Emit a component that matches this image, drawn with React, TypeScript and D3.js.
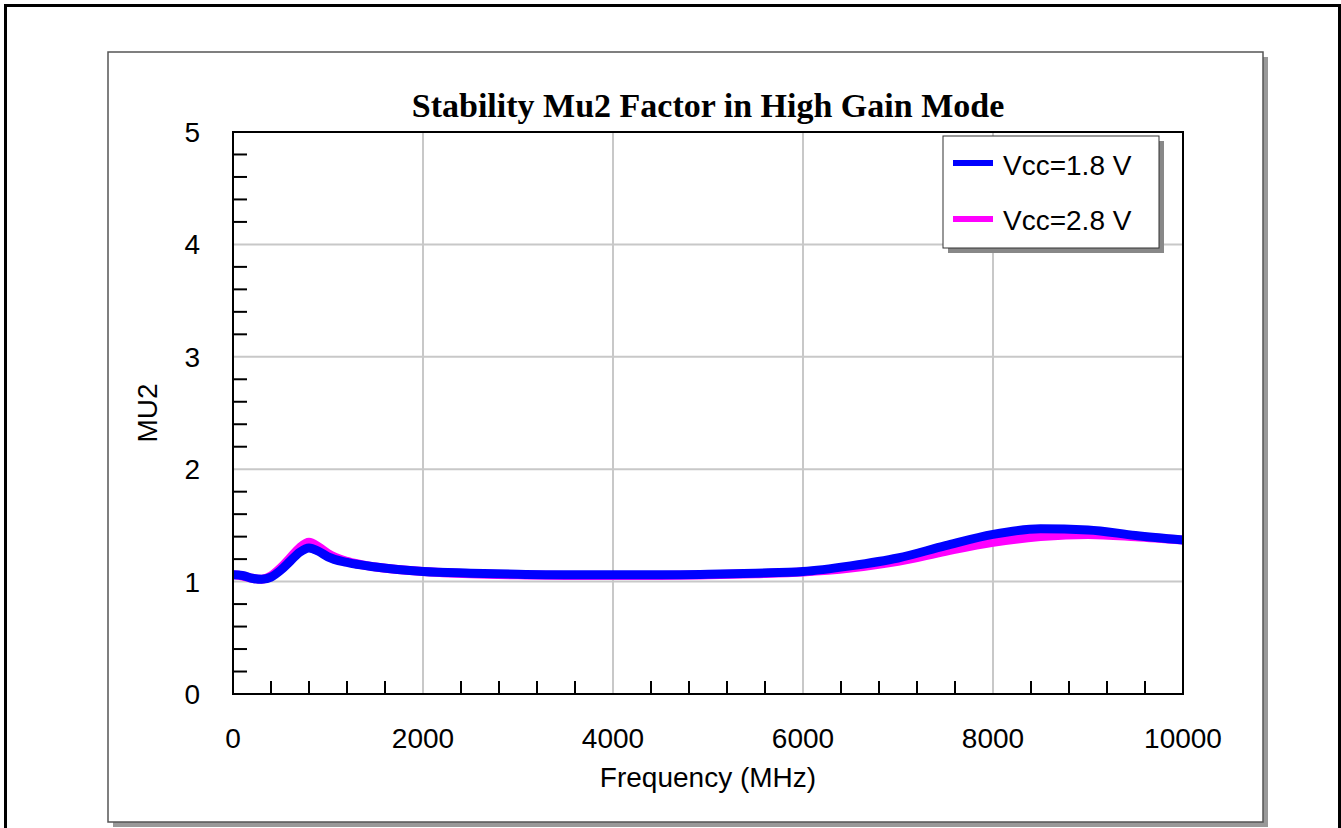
import React from 'react';
import * as d3 from 'd3';

// frequency points (MHz) and MU2 readings for each supply voltage
const freqs = [0, 100, 200, 300, 400, 500, 600, 700, 800, 900, 1000, 1200, 1500, 2000, 2500, 3000, 3500, 4000, 4500, 5000, 5500, 6000, 6500, 7000, 7500, 8000, 8500, 9000, 9500, 10000];
const vcc18 = [1.06, 1.055, 1.03, 1.02, 1.04, 1.1, 1.18, 1.26, 1.3, 1.27, 1.22, 1.17, 1.13, 1.09, 1.075, 1.065, 1.06, 1.06, 1.06, 1.065, 1.075, 1.09, 1.14, 1.21, 1.32, 1.42, 1.47, 1.46, 1.41, 1.37];
const vcc28 = [1.06, 1.05, 1.03, 1.02, 1.05, 1.12, 1.21, 1.3, 1.35, 1.31, 1.25, 1.18, 1.13, 1.09, 1.07, 1.06, 1.055, 1.055, 1.055, 1.06, 1.07, 1.085, 1.12, 1.18, 1.27, 1.35, 1.4, 1.42, 1.4, 1.37];

const xMajor = [0, 2000, 4000, 6000, 8000, 10000];
const yMajor = [0, 1, 2, 3, 4, 5];

const seriesNames = ['Vcc=1.8 V', 'Vcc=2.8 V'];
const seriesColors = ['#0000ff', '#ff00ff'];

const App: React.FC = () => {
  const width = 1341;
  const height = 828;
  const plot = { left: 233, top: 132, right: 1183, bottom: 694 };

  const x = d3.scaleLinear().domain([0, 10000]).range([plot.left, plot.right]);
  const y = d3.scaleLinear().domain([0, 5]).range([plot.bottom, plot.top]);

  const xMinor = d3.range(0, 10001, 400).filter((v) => v % 2000 !== 0);
  const yMinor = d3.range(0, 5.001, 0.2).filter((v) => Math.abs(v - Math.round(v)) > 0.01);

  const line = d3
    .line<number>()
    .x((_, i) => x(freqs[i]))
    .y((d) => y(d))
    .curve(d3.curveMonotoneX);

  const font = 'Arial, "Liberation Sans", sans-serif';

  return (
    <svg
      width={width}
      height={height}
      style={{ position: 'fixed', left: 0, top: 0, background: '#fff' }}
    >
      <defs>
        <clipPath id="plot-clip">
          <rect x={plot.left} y={plot.top} width={plot.right - plot.left} height={plot.bottom - plot.top} />
        </clipPath>
      </defs>

      {/* outer frame */}
      <rect x={5.5} y={5.5} width={1334} height={900} fill="none" stroke="#000" strokeWidth={3} />

      {/* chart box with shadow */}
      <rect x={113} y={57} width={1155} height={770} fill="#999" />
      <rect x={108} y={52} width={1155} height={770} fill="#fff" stroke="#555" strokeWidth={1.5} />

      <text x={708} y={117} textAnchor="middle" fontFamily='"Times New Roman", "Liberation Serif", serif' fontWeight="bold" fontSize={34}>
        Stability Mu2 Factor in High Gain Mode
      </text>

      {/* gridlines */}
      {xMajor.slice(1, -1).map((v) => (
        <line key={'gx' + v} x1={x(v)} x2={x(v)} y1={plot.top} y2={plot.bottom} stroke="#c8c8c8" strokeWidth={2} />
      ))}
      {yMajor.slice(1, -1).map((v) => (
        <line key={'gy' + v} x1={plot.left} x2={plot.right} y1={y(v)} y2={y(v)} stroke="#c8c8c8" strokeWidth={2} />
      ))}

      {/* minor ticks */}
      {xMinor.map((v) => (
        <line key={'tx' + v} x1={x(v)} x2={x(v)} y1={plot.bottom} y2={plot.bottom - 13} stroke="#000" strokeWidth={2} />
      ))}
      {yMinor.map((v) => (
        <line key={'ty' + v} x1={plot.left} x2={plot.left + 14} y1={y(v)} y2={y(v)} stroke="#000" strokeWidth={2} />
      ))}

      {/* series */}
      <g clipPath="url(#plot-clip)">
        <path d={line(vcc28) ?? ''} fill="none" stroke={seriesColors[1]} strokeWidth={9} strokeLinejoin="round" />
        <path d={line(vcc18) ?? ''} fill="none" stroke={seriesColors[0]} strokeWidth={9} strokeLinejoin="round" />
      </g>

      {/* plot border */}
      <rect x={plot.left} y={plot.top} width={plot.right - plot.left} height={plot.bottom - plot.top} fill="none" stroke="#000" strokeWidth={2} />

      {/* tick labels */}
      {xMajor.map((v) => (
        <text key={'lx' + v} x={x(v)} y={748} textAnchor="middle" fontFamily={font} fontSize={28}>
          {v}
        </text>
      ))}
      {yMajor.map((v) => (
        <text key={'ly' + v} x={200} y={y(v) + 10} textAnchor="end" fontFamily={font} fontSize={28}>
          {v}
        </text>
      ))}

      <text x={708} y={787} textAnchor="middle" fontFamily={font} fontSize={28}>
        Frequency (MHz)
      </text>
      <text transform="translate(157,413) rotate(-90)" textAnchor="middle" fontFamily={font} fontSize={28}>
        MU2
      </text>

      {/* legend */}
      <rect x={948} y={141} width={216} height={112} fill="#888" />
      <rect x={943} y={136} width={216} height={112} fill="#fff" stroke="#333" strokeWidth={1} />
      {seriesNames.map((name, i) => (
        <g key={name}>
          <line x1={953} x2={993} y1={163 + i * 56} y2={163 + i * 56} stroke={seriesColors[i]} strokeWidth={6} />
          <text x={1003} y={175 + i * 55} fontFamily={font} fontSize={28}>
            {name}
          </text>
        </g>
      ))}
    </svg>
  );
};

export default App;
